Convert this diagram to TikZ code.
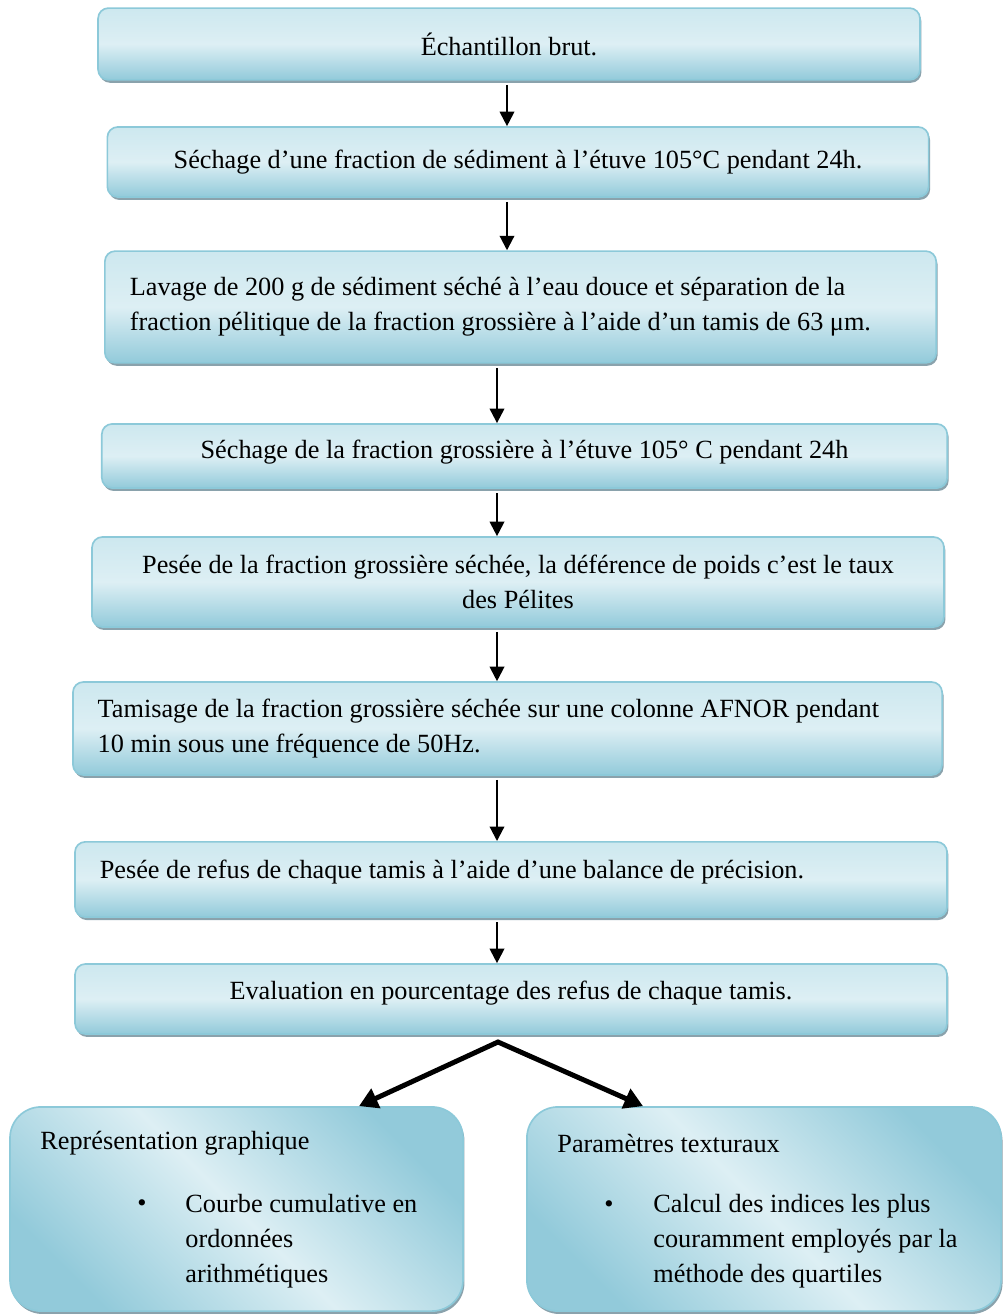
\documentclass[tikz,border=0pt]{standalone}
\usepackage{fontspec}
\setmainfont{Liberation Serif}
\usetikzlibrary{arrows.meta}
\usetikzlibrary{shadows}
\usetikzlibrary{calc}

\definecolor{bordbleu}{RGB}{140,201,217}
\definecolor{bleuclair}{RGB}{221,239,244}
\definecolor{bleuhaut}{RGB}{205,232,239}
\definecolor{bleufonce}{RGB}{146,202,218}
\definecolor{ombre}{RGB}{138,162,172}

\tikzset{
	etape/.style={draw=bordbleu, line width=0.8pt, rounded corners=5pt,
		top color=bleuhaut, bottom color=bleufonce, middle color=bleuclair,
		drop shadow={shadow xshift=0.7pt, shadow yshift=-1.4pt, fill=ombre, opacity=1},
		inner xsep=12pt, inner ysep=0pt, font=\fontsize{12.7}{17}\selectfont},
	bilan/.style={etape, rounded corners=15pt,
		top color=bleufonce, bottom color=bleufonce, middle color=bleuclair, shading angle=-45},
	remonte/.style={text depth=#1},
	texte/.style={inner sep=0pt, font=\fontsize{12.7}{17}\selectfont},
	fleche/.style={-{Triangle[length=7pt,width=7pt]}, line width=1pt, shorten <=2pt},
	grossefleche/.style={{Triangle[length=9pt,width=10pt]}-{Triangle[length=9pt,width=10pt]}, line width=2.4pt, line join=miter},
}

\begin{document}
\begin{tikzpicture}[x=0.017cm, y=-0.017cm]
		\useasboundingbox (0,0) rectangle (1003,1315);
		\clip (0,0) rectangle (1003,1315);

		% les etapes
		\node[etape, minimum width=13.97cm, minimum height=1.22cm] (ech) at (509,44) {Échantillon brut.};
		\node[etape, minimum width=13.96cm, minimum height=1.19cm] (sech) at (518,162) {Séchage d’une fraction de sédiment à l’étuve 105°C pendant 24h.};
		\node[etape, minimum width=14.13cm, minimum height=1.90cm, text width=13.28cm, align=flush left] (lav) at (520.5,307) {Lavage de 200 g de sédiment séché à l’eau douce et séparation de la\\fraction pélitique de la fraction grossière à l’aide d’un tamis de 63 μm.};
		\node[etape, minimum width=14.37cm, minimum height=1.09cm, remonte=6.6pt] (sechg) at (524.5,456) {Séchage de la fraction grossière à l’étuve 105° C pendant 24h};
		\node[etape, minimum width=14.48cm, minimum height=1.53cm, align=center] (pes) at (518,582) {Pesée de la fraction grossière séchée, la déférence de poids c’est le taux\\des Pélites};
		\node[etape, minimum width=14.77cm, minimum height=1.58cm, text width=13.93cm, align=flush left] (tam) at (507.5,728.5) {Tamisage de la fraction grossière séchée sur une colonne AFNOR pendant\\10 min sous une fréquence de 50Hz.};
		\node[etape, minimum width=14.82cm, minimum height=1.28cm, text width=13.98cm, align=flush left, remonte=10.4pt] (ref) at (511,879.5) {Pesée de refus de chaque tamis à l’aide d’une balance de précision.};
		\node[etape, minimum width=14.82cm, minimum height=1.19cm, remonte=8.6pt] (evl) at (511,999) {Evaluation en pourcentage des refus de chaque tamis.};

		% les deux bilans
		\node[bilan, minimum width=7.70cm, minimum height=3.47cm] (rep) at (236.5,1209) {};
		\node[bilan, minimum width=8.06cm, minimum height=3.47cm] (par) at (764,1209) {};

		\node[texte, anchor=west] (rep-titre) at (40,1143) {Représentation graphique};
		\node[texte] (rep-puce) at (142,1206) {•};
		\node[texte, anchor=north west, align=flush left] (rep-liste) at (185,1194) {Courbe cumulative en\\ordonnées\\arithmétiques};

		\node[texte, anchor=west] (par-titre) at (557,1143) {Paramètres texturaux};
		\node[texte] (par-puce) at (609,1207) {•};
		\node[texte, anchor=north west, align=flush left] (par-liste) at (653,1194) {Calcul des indices les plus\\couramment employés par la\\méthode des quartiles};

		% les fleches
		\coordinate (axe1) at (507,0);
		\coordinate (axe2) at (497,0);
		\draw[fleche] (ech.south -| axe1) -- (sech.north -| axe1);
		\draw[fleche] (sech.south -| axe1) -- (lav.north -| axe1);
		\draw[fleche] (lav.south -| axe2) -- (sechg.north -| axe2);
		\draw[fleche] (sechg.south -| axe2) -- (pes.north -| axe2);
		\draw[fleche] (pes.south -| axe2) -- (tam.north -| axe2);
		\draw[fleche] (tam.south -| axe2) -- (ref.north -| axe2);
		\draw[fleche] (ref.south -| axe2) -- (evl.north -| axe2);

		\coordinate (sommet) at (498,1042);
		\coordinate (pointeg) at (359,0);
		\coordinate (pointed) at (643,0);
		\draw[grossefleche] (rep.north -| pointeg) -- (sommet) -- (par.north -| pointed);
	\end{tikzpicture}
\end{document}
